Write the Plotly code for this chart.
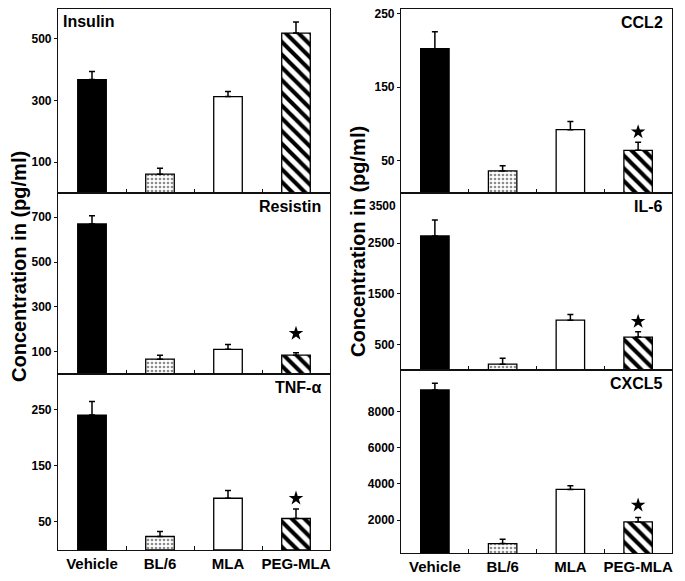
import plotly.graph_objects as go

# ---------------- data ----------------
groups = ["Vehicle", "BL/6", "MLA", "PEG-MLA"]

insulin_mean = [368, 61, 313, 519]
insulin_err = [26, 19, 16, 36]

resistin_mean = [670, 66, 110, 84]
resistin_err = [37, 18, 22, 11]

tnf_mean = [240, 24, 92, 56]
tnf_err = [24, 9, 14, 17]

ccl2_mean = [202, 36, 92, 64]
ccl2_err = [23, 7, 11, 11]

il6_mean = [2643, 114, 982, 649]
il6_err = [314, 117, 112, 106]

cxcl5_mean = [9197, 703, 3695, 1900]
cxcl5_err = [369, 239, 200, 244]

# significance star heights (PEG-MLA column), None = no star
star_insulin = None
star_resistin = 181
star_tnf = 92
star_ccl2 = 89
star_il6 = 957
star_cxcl5 = 2825

insulin_ticks = [100, 300, 500]
resistin_ticks = [100, 300, 500, 700]
tnf_ticks = [50, 150, 250]
ccl2_ticks = [50, 150, 250]
il6_ticks = [500, 1500, 2500]
cxcl5_ticks = [2000, 4000, 6000, 8000]

# ---------------- layout helpers ----------------
# the page body has an 8px default margin, so the figure is 8px smaller
OFF = 8
W, H = 685 - OFF, 581 - OFF
FONT = "Liberation Sans"


def clamp(v):
    return max(0.0, min(1.0, v))


def px_x(p):
    return clamp((p - OFF) / W)


def px_y(p):
    return clamp(1 - (p - OFF) / H)


panels = [
    ("Insulin", insulin_mean, insulin_err, star_insulin, insulin_ticks, [0, 597], (58, 330), (9, 193), "left"),
    ("Resistin", resistin_mean, resistin_err, star_resistin, resistin_ticks, [0, 808], (58, 330), (193, 374), "right"),
    ("TNF-α", tnf_mean, tnf_err, star_tnf, tnf_ticks, [0, 313], (58, 330), (374, 550), "right"),
    ("CCL2", ccl2_mean, ccl2_err, star_ccl2, ccl2_ticks, [6, 256], (401, 672), (9, 193), "right"),
    ("IL-6", il6_mean, il6_err, star_il6, il6_ticks, [0, 3490], (401, 672), (193, 370), "right"),
    ("CXCL5", cxcl5_mean, cxcl5_err, star_cxcl5, cxcl5_ticks, [180, 10300], (401, 672), (370, 553), "right"),
]

# per-group bar styles
bar_styles = [
    dict(color="black"),
    dict(color="white", pattern=dict(shape=".", fgcolor="#8c8c8c", bgcolor="white",
                                     size=4, solidity=0.35, fillmode="replace")),
    dict(color="white"),
    dict(color="white", pattern=dict(shape="\\", fgcolor="black", bgcolor="white",
                                     size=9, solidity=0.45, fillmode="replace")),
]

fig = go.Figure()
annotations = []

for i, (name, mean, err, star, ticks, yr, xd, yd, side) in enumerate(panels):
    n = i + 1
    xa = "x" if n == 1 else f"x{n}"
    ya = "y" if n == 1 else f"y{n}"
    bottom = name in ("TNF-α", "CXCL5")

    for g, grp in enumerate(groups):
        st = bar_styles[g]
        marker = dict(color=st["color"], line=dict(color="black", width=1.3))
        if "pattern" in st:
            marker["pattern"] = st["pattern"]
        fig.add_trace(go.Bar(
            x=[grp], y=[mean[g]], xaxis=xa, yaxis=ya, width=0.42,
            marker=marker,
            error_y=dict(type="data", array=[err[g]], arrayminus=[0], symmetric=False,
                         color="black", thickness=1.5, width=3),
            showlegend=False,
        ))
    if star is not None:
        fig.add_trace(go.Scatter(
            x=[groups[3]], y=[star], xaxis=xa, yaxis=ya, mode="markers",
            marker=dict(symbol="star", size=11, color="black"),
            showlegend=False,
        ))

    axis_x = dict(
        domain=[px_x(xd[0]), px_x(xd[1])],
        anchor=ya, type="category", categoryorder="array", categoryarray=groups,
        range=[-0.5, 3.5],
        showline=True, mirror=True, linecolor="#111", linewidth=1.2,
        ticks="inside", tickson="boundaries", ticklen=4, tickwidth=1.2, tickcolor="#111",
        showticklabels=bottom, tickangle=0, showgrid=False, zeroline=False,
        tickfont=dict(family=FONT, size=15, color="black", weight="bold"),
        automargin=False, fixedrange=True,
    )
    axis_y = dict(
        domain=[px_y(yd[1]), px_y(yd[0])],
        anchor=xa, range=yr, tickvals=ticks,
        showline=True, mirror=True, linecolor="#111", linewidth=1.2,
        ticks="outside", ticklen=3, tickwidth=1.2, tickcolor="#111",
        showgrid=False, zeroline=False, ticklabeloverflow="allow",
        tickfont=dict(family=FONT, size=12, color="black", weight="bold"),
        automargin=False, fixedrange=True,
    )
    fig.update_layout(**{("xaxis" if n == 1 else f"xaxis{n}"): axis_x,
                         ("yaxis" if n == 1 else f"yaxis{n}"): axis_y})

    if side == "left":
        annotations.append(dict(
            text=name, xref=f"{xa} domain", yref=f"{ya} domain", x=0, y=1,
            xanchor="left", yanchor="top", xshift=3, yshift=-2, showarrow=False,
            font=dict(family=FONT, size=16, color="black", weight="bold")))
    else:
        annotations.append(dict(
            text=name, xref=f"{xa} domain", yref=f"{ya} domain", x=1, y=1,
            xanchor="right", yanchor="top", xshift=-7, yshift=-3, showarrow=False,
            font=dict(family=FONT, size=16, color="black", weight="bold")))

# IL-6 top tick label sits just inside the panel
annotations.append(dict(
    text="3500", xref="x5 domain", yref="y5 domain", x=0, y=1,
    xanchor="right", yanchor="top", xshift=-3, yshift=-4, showarrow=False,
    font=dict(family=FONT, size=12, color="black", weight="bold")))

# y-axis titles
for xc, yc in [(19, 267), (358, 242)]:
    annotations.append(dict(
        text="Concentration in (pg/ml)", xref="paper", yref="paper",
        x=px_x(xc), y=px_y(yc), xanchor="center", yanchor="middle",
        textangle=-90, showarrow=False,
        font=dict(family=FONT, size=20, color="black", weight="bold")))

fig.update_layout(
    width=W, height=H,
    margin=dict(l=0, r=0, t=0, b=0),
    paper_bgcolor="white", plot_bgcolor="white",
    barmode="overlay",
    annotations=annotations,
    font=dict(family=FONT),
)

fig.write_html("out.html")
